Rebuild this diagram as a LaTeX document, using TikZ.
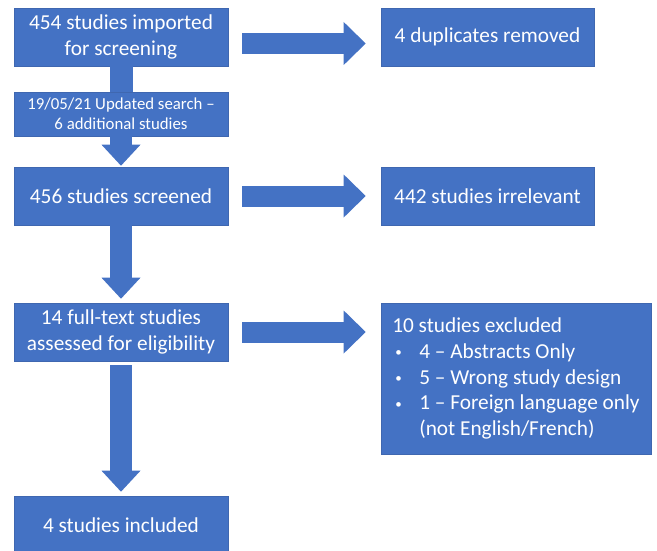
\documentclass[tikz,border=0pt]{standalone}
\usepackage{fontspec}
\setmainfont{Carlito}
\usetikzlibrary{arrows.meta}
\definecolor{boxblue}{HTML}{4472C4}
\definecolor{boxedge}{HTML}{3F67B0}
\newcommand{\exbullet}{\makebox[27pt][l]{\hspace{3pt}\raisebox{1.5pt}{\fontsize{13}{13}\selectfont\textbullet}}}
\tikzset{
	stagebox/.style={fill=boxblue, draw=boxedge, line width=0.6pt, text=white,
		minimum width=214pt, minimum height=58pt, inner sep=0pt, align=center,
		font=\fontsize{21.3}{26}\selectfont},
	stem/.style={draw=boxblue, line width=23pt},
	downarrow/.style={draw=boxblue, line width=22pt,
		-{Triangle[width=39pt, length=21pt, line width=0pt]}},
	rightarrow/.style={draw=boxblue, line width=21pt,
		-{Triangle[width=43pt, length=22pt, line width=0pt]}},
}
\begin{document}
\begin{tikzpicture}[x=1pt, y=-1pt]
	\useasboundingbox (0,0) rectangle (657,551);
	
	% Left column
	\node[stagebox] (imported) at (121,37) {454 studies imported\\for screening};
	\node[stagebox, minimum height=44pt, font=\fontsize{16.8}{20}\selectfont] (update) at (121,114) {19/05/21 Updated search –\\6 additional studies};
	\node[stagebox] (screened) at (121,196) {456 studies screened};
	\node[stagebox] (fulltext) at (121,332) {14 full-text studies\\assessed for eligibility};
	\node[stagebox] (included) at (121,525) {4 studies included};
	
	% Right column
	\node[stagebox, minimum width=213pt] (duplicates) at (487.5,37) {4 duplicates removed};
	\node[stagebox, minimum width=213pt] (irrelevant) at (487.5,196) {442 studies irrelevant};
	\node[stagebox, minimum width=270pt, minimum height=151pt, align=left,
		font=\fontsize{21.3}{25.7}\selectfont] (excluded) at (516,378.5)
		{10 studies excluded\\
		\exbullet 4 – Abstracts Only\\
		\exbullet 5 – Wrong study design\\
		\exbullet 1 – Foreign language only\\
		\hspace*{27pt}(not English/French)};
	
	% Down arrows
	\draw[stem] (imported.south) -- (update.north);
	\draw[downarrow] (update.south) -- ([yshift=1pt]screened.north);
	\draw[downarrow] (screened.south) -- ([yshift=4pt]fulltext.north);
	\draw[downarrow] ([yshift=-4pt]fulltext.south) -- ([yshift=4pt]included.north);
	
	% Right arrows
	\draw[rightarrow] ([xshift=14pt, yshift=-6.5pt]imported.east) -- ([xshift=-15pt, yshift=-6.5pt]duplicates.west);
	\draw[rightarrow] ([xshift=14pt]screened.east) -- ([xshift=-15pt]irrelevant.west);
	\draw[rightarrow] ([xshift=14pt]fulltext.east) -- ([xshift=-15pt]fulltext.east -| excluded.west);
\end{tikzpicture}
\end{document}
